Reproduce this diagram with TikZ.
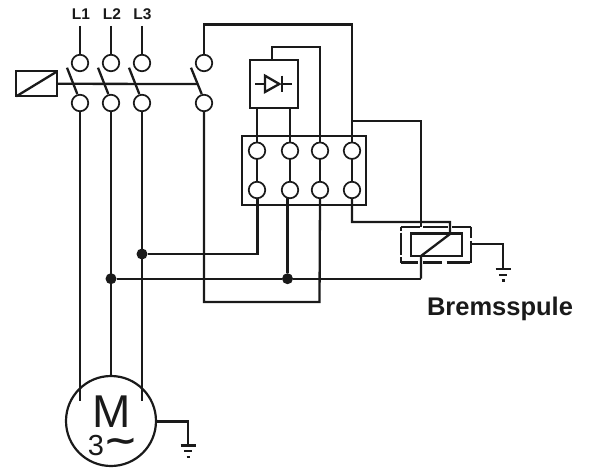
\documentclass[tikz,border=0pt]{standalone}
\usepackage{fontspec}
\setmainfont{Liberation Sans}
\newfontfamily\symfont{DejaVu Sans}
\definecolor{ink}{HTML}{1A1A1A}
\tikzset{
  wire/.style={draw=ink,line width=2.3pt},
  thin wire/.style={draw=ink,line width=2pt},
  term/.style={circle,draw=ink,fill=white,line width=1.7pt,minimum size=16.5pt,inner sep=0pt,outer sep=0pt},
  junction/.style={circle,fill=ink,minimum size=11pt,inner sep=0pt,outer sep=0pt},
  lbl/.style={font=\bfseries\fontsize{15.5pt}{15.5pt}\selectfont,text=ink,inner sep=0pt},
  blk/.style={draw=ink,line width=2.3pt,fill=white,inner sep=0pt,outer sep=0pt,anchor=north west},
}
\begin{document}
\begin{tikzpicture}[x=1pt,y=-1pt]
\useasboundingbox (0,0) rectangle (591,468);
\node[blk,minimum width=124pt,minimum height=69pt] (tb) at (242,135.7) {};
\coordinate (top4) at (204,24.5);
\coordinate (top4r) at (352,24.5);
\coordinate (dtop) at (272,46.7);
\coordinate (dtopr) at (320,46.7);
\coordinate (br1) at (352,121);
\coordinate (br2) at (421,121);
\coordinate (br3) at (421,226.7);
\coordinate (cl1) at (352,222);
\coordinate (cl2) at (450,222);
\coordinate (cl3) at (450,234);
\coordinate (cl4) at (421,256);
\coordinate (busA) at (421,278.7);
\coordinate (k1) at (257.5,254);
\coordinate (lp1) at (204,302);
\coordinate (lp2) at (319.5,302);
\coordinate (gm1) at (188,421.5);
\coordinate (gm2) at (188,445.5);
\coordinate (gb0) at (471,244);
\coordinate (gb1) at (503,244);
\coordinate (gb2) at (503,269);
\coordinate (cnt) at (197,84);
\node[circle,draw=ink,fill=white,line width=2.2pt,minimum size=90pt,inner sep=0pt,outer sep=0pt] (mot) at (111,421) {};
\node[text=ink,inner sep=0pt,font=\fontsize{46pt}{46pt}\selectfont] (mm) at (112,411.5) {M};
\node[text=ink,inner sep=0pt,font=\fontsize{29pt}{29pt}\selectfont] (m3) at (96,446) {3};
\node[text=ink,inner sep=0pt,font=\symfont\bfseries\fontsize{32pt}{32pt}\selectfont,xscale=1.3] (mt) at (121,445) {∼};
\foreach \n/\x in {a/80,b/111,c/142,d/204}{
  \node[term] (\n u) at (\x,63) {};
  \node[term] (\n l) at (\x,103) {};
}
\foreach \n/\x in {p/257,q/290,r/320,s/352}{
  \node[term] (\n u) at (\x,150.7) {};
  \node[term] (\n l) at (\x,190) {};
}
\node[lbl] (L1) at (81,14) {L1};
\node[lbl] (L2) at (112,14) {L2};
\node[lbl] (L3) at (142.5,14) {L3};
\node[font=\bfseries\fontsize{25.5pt}{25.5pt}\selectfont,text=ink,inner sep=0pt] (brems) at (500,309) {Bremsspule};
\coordinate (fa) at (80,26); \coordinate (fb) at (111,26); \coordinate (fc) at (142,26);
\draw[wire] (fa) -- (au.north);
\draw[wire] (fb) -- (bu.north);
\draw[wire] (fc) -- (cu.north);
\draw[wire,line join=miter] (du.north) -- (top4) -- (top4r) -- (su.north);
\draw[wire] (al.south) -- (al.south |- 0,401);
\draw[wire] (bl.south) -- (mot.north);
\draw[wire] (cl.south) -- (cl.south |- 0,401);
\draw[wire] (dl.south) -- (lp1) -- (lp2) -- (rl.south);
\node[junction] (j1) at (142,254) {};
\node[junction] (j2) at (111,278.7) {};
\node[junction] (j3) at (287.5,278.7) {};
\draw[wire] (j1) -- (k1) -- (k1 |- pl.south);
\draw[wire] (j2) -- (j3) -- (busA);
\draw[wire] (j3) -- (j3 |- ql.south);
\foreach \n in {p,q,r,s}{\draw[wire] (\n u.south) -- (\n l.north);}
\node[blk,minimum width=47.7pt,minimum height=47.7pt] (db) at (250,60) {};
\draw[wire] (db.north -| dtop) -- (dtop) -- (dtopr) -- (ru.north);
\draw[wire] (db.south -| pu) -- (pu.north);
\draw[wire] (db.south -| qu) -- (qu.north);
\coordinate (d1) at (255,84); \coordinate (d2) at (265,84); \coordinate (d3) at (282,84); \coordinate (d4) at (292,84);
\draw[thin wire] (d1) -- (d2);
\draw[thin wire] (d3) -- (d4);
\draw[wire,line join=miter] (265,75.7) -- (265,92) -- (279.3,84) -- cycle;
\draw[wire] (282,75.7) -- (282,92);
\node[blk,minimum width=41pt,minimum height=25pt] (coil) at (16.3,71.3) {};
\draw[wire] (coil.south west) -- (coil.north east);
\draw[wire] (coil.east) -- (cnt);
\draw[wire] (67,67.7) -- (77.3,94);
\draw[wire] (98,67.7) -- (108.3,94);
\draw[wire] (129,67.7) -- (139.3,94);
\draw[wire] (191,67.7) -- (201.7,94);
% dashed screen of the brake coil
\draw[wire] (400.7,226.7) -- (420,226.7) (423,226.7) -- (448,226.7) (451.7,226.7) -- (471,226.7);
\draw[wire] (471,226.7) -- (471,238) (471,240.7) -- (471,262.5);
\draw[wire] (400.7,262.5) -- (418,262.5) (423,262.5) -- (442,262.5) (446.7,262.5) -- (470,262.5);
\draw[wire] (401,226.7) -- (401,230.7) (401,232.7) -- (401,255) (401,257) -- (401,262.5);
\node[blk,fill=none,minimum width=51pt,minimum height=22.5pt] (bc) at (410.7,233.5) {};
\draw[wire] (sl.south) -- (cl1) -- (cl2) -- (cl3) -- (cl4) -- (busA);
\draw[wire] (br1) -- (br2) -- (br3);
\draw[wire] (gb0) -- (gb1) -- (gb2);
\draw[wire] (495.5,269) -- (510.5,269);
\draw[wire] (499,275) -- (507,275);
\draw[wire] (501.5,280.5) -- (504.5,280.5);
\draw[wire] (mot.east |- gm1) -- (gm1) -- (gm2);
\draw[wire] (180.5,445.5) -- (195.5,445.5);
\draw[wire] (184,451) -- (192,451);
\draw[wire] (186.5,457) -- (189.5,457);
\end{tikzpicture}
\end{document}
